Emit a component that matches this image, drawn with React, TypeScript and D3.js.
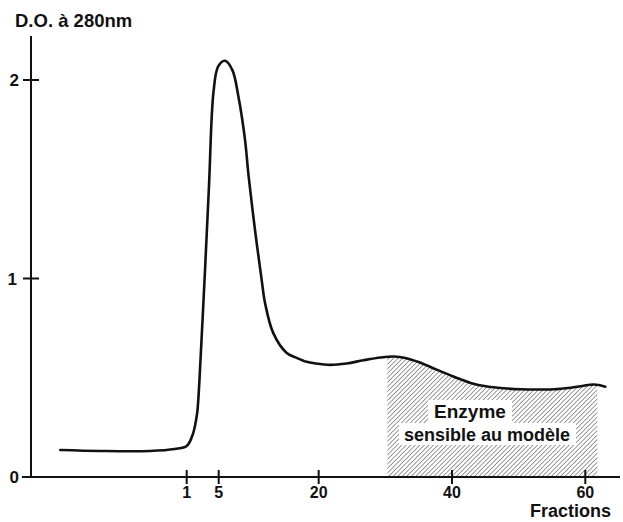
import React from "react";
import * as d3 from "d3";

const fractions = [-14.8, -9.8, -3.6, -0.5, 1.0, 1.8, 2.3, 2.45, 2.66, 3.29, 3.79, 4.35, 4.95, 5.95, 7.05, 7.97, 8.95, 9.47, 10.45, 11.45, 11.95, 13.19, 15.2, 16.7, 18.2, 19.5, 21.7, 24.2, 26.7, 29.3, 31.3, 33.0, 35.1, 37.6, 40.3, 42.8, 45.3, 47.8, 50.3, 52.8, 55.3, 57.8, 59.3, 61.3, 63.0];
const absorbance = [0.136, 0.131, 0.131, 0.141, 0.156, 0.22, 0.32, 0.39, 0.539, 1.043, 1.471, 1.94, 2.07, 2.097, 2.05, 1.914, 1.698, 1.521, 1.244, 0.992, 0.877, 0.725, 0.625, 0.6, 0.58, 0.572, 0.565, 0.572, 0.588, 0.602, 0.607, 0.6, 0.578, 0.542, 0.505, 0.474, 0.456, 0.447, 0.442, 0.441, 0.442, 0.45, 0.457, 0.466, 0.455];

const xTicks = [1, 5, 20, 40, 60];
const yTicks = [0, 1, 2];
const enzymeRange = [30.3, 61.8];
const yTitle = "D.O. à 280nm";
const xTitle = "Fractions";
const enzymeLabel = ["Enzyme", "sensible au modèle"];

export default function App() {
  const W = 623, H = 522;
  const x = d3.scaleLinear().domain([1, 5, 60]).range([186.7, 218.7, 585.3]);
  const y = d3.scaleLinear().domain([0, 2]).range([477, 80]);
  const pts: [number, number][] = fractions.map((f, i) => [f, absorbance[i]]);
  const curve = d3.curveCatmullRom.alpha(0.5);
  const line = d3.line<[number, number]>().x(d => x(d[0])).y(d => y(d[1])).curve(curve);
  const area = d3.area<[number, number]>().x(d => x(d[0])).y0(y(0)).y1(d => y(d[1])).curve(d3.curveMonotoneX);
  const font = "'Liberation Sans', Arial, sans-serif";
  const x0 = 31;
  const yb = y(0);
  const hx0 = x(enzymeRange[0]);
  const hx1 = x(enzymeRange[1]);
  return (
    <svg width={W} height={H} style={{ position: "absolute", left: 0, top: 0, background: "#fff" }} fontFamily={font} fontWeight="bold">
      <defs>
        <pattern id="hatch" patternUnits="userSpaceOnUse" width="3.2" height="3.2" patternTransform="rotate(45)">
          <line x1="0" y1="0" x2="0" y2="3.2" stroke="#222" strokeWidth="0.9" />
        </pattern>
        <clipPath id="enzClip">
          <rect x={hx0} y={0} width={hx1 - hx0} height={yb} />
        </clipPath>
      </defs>
      <path d={area(pts) || ""} fill="url(#hatch)" clipPath="url(#enzClip)" />
      <rect x={428} y={400} width={84} height={23} fill="#fff" />
      <rect x={399} y={423} width={177} height={22} fill="#fff" />
      <text x={470} y={418} textAnchor="middle" fontSize={19} fill="#111">{enzymeLabel[0]}</text>
      <text x={487} y={441} textAnchor="middle" fontSize={18} fill="#111">{enzymeLabel[1]}</text>
      <line x1={x0} x2={x0} y1={36} y2={yb} stroke="#111" strokeWidth={2} />
      <line x1={22} x2={620} y1={yb} y2={yb} stroke="#111" strokeWidth={2} />
      {yTicks.map(t => (
        <g key={"y" + t}>
          {t > 0 && <line x1={x0 - 8} x2={x0 + 8} y1={y(t)} y2={y(t)} stroke="#111" strokeWidth={2} />}
          <text x={t === 1 ? 17 : 19} y={y(t) + 6} textAnchor="end" fontSize={17} fill="#111">{t}</text>
        </g>
      ))}
      {xTicks.map(t => (
        <g key={"x" + t}>
          <line x1={x(t)} x2={x(t)} y1={yb - 7} y2={yb + 7} stroke="#111" strokeWidth={2} />
          <text x={x(t)} y={yb + 21} textAnchor="middle" fontSize={16} fill="#111">{t}</text>
        </g>
      ))}
      <text x={15} y={27} fontSize={18.5} fill="#111">{yTitle}</text>
      <text x={611} y={517} textAnchor="end" fontSize={18} fill="#111">{xTitle}</text>
      <path d={line(pts) || ""} fill="none" stroke="#111" strokeWidth={2.6} strokeLinejoin="round" strokeLinecap="round" />
    </svg>
  );
}
